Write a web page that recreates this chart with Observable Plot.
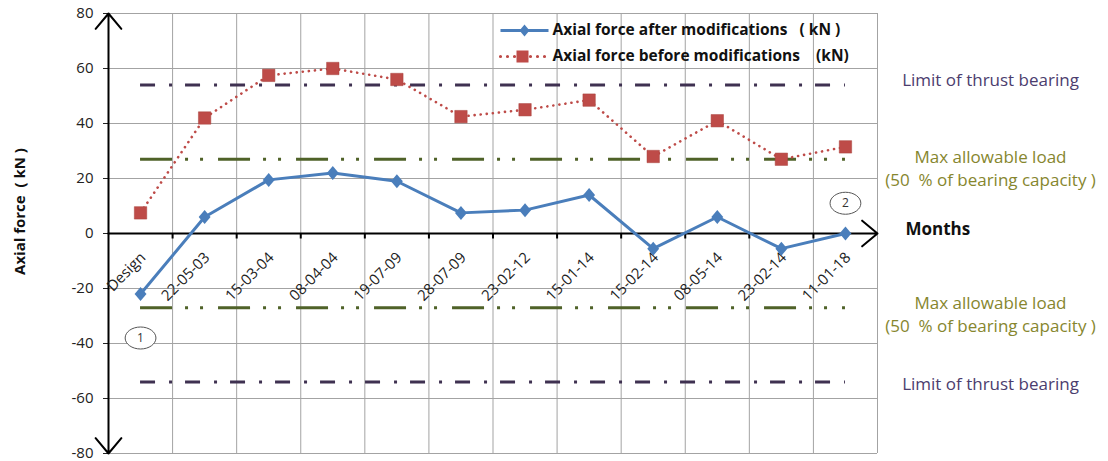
<!DOCTYPE html>
<html>
<head>
<meta charset="utf-8">
<script src="https://cdn.jsdelivr.net/npm/d3@7"></script>
<script src="https://cdn.jsdelivr.net/npm/@observablehq/plot@0.6"></script>
<style>
  html, body { margin: 0; padding: 0; background: #fff; }
  #chart svg { display: block; }
</style>
</head>
<body>
<div id="chart"></div>
<script>
// ---- data ----
const categories = ["Design","22-05-03","15-03-04","08-04-04","19-07-09","28-07-09","23-02-12","15-01-14","15-02-14","08-05-14","23-02-14","11-01-18"];
const afterValues  = [-22, 6, 19.5, 22, 19, 7.5, 8.5, 14, -5.5, 6, -5.5, 0];
const beforeValues = [7.5, 42, 57.5, 60, 56, 42.5, 45, 48.5, 28, 41, 27, 31.5];
const thrustLimit = 54;
const maxAllowable = 27;
const yTicks = [-80, -60, -40, -20, 0, 20, 40, 60, 80];
const seriesNames = ["Axial force after modifications   ( kN )", "Axial force before modifications    (kN)"];
const limitLabel = "Limit of thrust bearing";
const loadLabel = "Max allowable load\n(50  % of bearing capacity )";
const circleNotes = [{label: "1", cat: 0, value: -38}, {label: "2", cat: 11, value: 11}];

// ---- derived tables ----
const n = categories.length;
const afterData = afterValues.map((v, i) => ({i, v}));
const beforeData = beforeValues.map((v, i) => ({i, v}));
const bounds = d3.range(n + 1).map(i => i - 0.5);

const blue = "#4a7ebb", red = "#be4b48", purple = "#3f3151", green = "#4f6228";
const purpleText = "#4b3d6e", greenText = "#86862e";

// custom symbols
const ellipse = {draw(ctx, size) {
  const r = Math.sqrt(size / Math.PI), rx = r * 1.4, ry = r, k = 0.5523;
  ctx.moveTo(rx, 0);
  ctx.bezierCurveTo(rx, ry * k, rx * k, ry, 0, ry);
  ctx.bezierCurveTo(-rx * k, ry, -rx, ry * k, -rx, 0);
  ctx.bezierCurveTo(-rx, -ry * k, -rx * k, -ry, 0, -ry);
  ctx.bezierCurveTo(rx * k, -ry, rx, -ry * k, rx, 0);
  ctx.closePath();
}};
const tickDown = {draw(ctx) { ctx.moveTo(0, 0); ctx.lineTo(0, 5); }};
const legendBlue = {draw(ctx) {
  ctx.rect(-24, -1.5, 48, 3);
  ctx.moveTo(0, -6); ctx.lineTo(5, 0); ctx.lineTo(0, 6); ctx.lineTo(-5, 0); ctx.closePath();
}};
const legendRed = {draw(ctx) {
  for (const x of [-22, -15, -8, 8, 15, 22]) { ctx.moveTo(x + 1.6, 0); ctx.arc(x, 0, 1.6, 0, 2 * Math.PI); }
  ctx.rect(-6, -6, 12, 12);
}};
const diamond = {draw(ctx, size) {
  const r = Math.sqrt(size / Math.PI);
  ctx.moveTo(0, -r); ctx.lineTo(r * 0.85, 0); ctx.lineTo(0, r); ctx.lineTo(-r * 0.85, 0); ctx.closePath();
}};

const chart = Plot.plot({
  width: 1108,
  height: 461,
  marginLeft: 108,
  marginRight: 231,
  marginTop: 13,
  marginBottom: 8,
  style: {fontFamily: "'Open Sans', sans-serif", fontSize: "15px", color: "#222", background: "#fff"},
  x: {type: "linear", domain: [-0.5, n - 0.5], axis: null},
  y: {domain: [-80, 80], ticks: yTicks, tickSize: 5, tickPadding: 10, label: null, tickFormat: d => String(d)},
  marks: [
    // grid
    Plot.ruleY(yTicks, {x1: -0.5, x2: n - 0.5, stroke: "#a3a3a3", strokeWidth: 1}),
    Plot.ruleX(bounds.slice(1), {y1: -80, y2: 80, stroke: "#a3a3a3", strokeWidth: 1}),
    // reference lines
    Plot.ruleY([thrustLimit, -thrustLimit], {x1: 0, x2: n - 1, stroke: purple, strokeWidth: 3.2, strokeDasharray: "15,14,3,13"}),
    Plot.ruleY([maxAllowable, -maxAllowable], {x1: 0, x2: n - 1, stroke: green, strokeWidth: 3.2, strokeDasharray: "32,13,3,12,3,15"}),
    // axes
    Plot.arrow([0], {x1: -0.5, x2: n - 0.5, y1: 0, y2: 0, stroke: "#000", strokeWidth: 2, headLength: 15, headAngle: 80}),
    Plot.arrow([80, -80], {x1: -0.5, x2: -0.5, y1: 0, y2: d => d, stroke: "#000", strokeWidth: 2, headLength: 15, headAngle: 80}),
    Plot.dot(bounds.slice(1, -1), {x: d => d, y: () => 0, symbol: tickDown, stroke: "#000", strokeWidth: 2, r: 3}),
    // x category labels
    Plot.text(categories, {x: (d, i) => i, y: () => 0, text: d => d, rotate: -45, textAnchor: "end", lineAnchor: "bottom", dx: 6, dy: 25, fontSize: 15, fill: "#222"}),
    // series
    Plot.line(beforeData, {x: "i", y: "v", stroke: red, strokeWidth: 2.6, strokeDasharray: "0.1,6", strokeLinecap: "round"}),
    Plot.dot(beforeData, {x: "i", y: "v", symbol: "square", r: 7, fill: red, stroke: "#a8403d", strokeWidth: 0.5}),
    Plot.line(afterData, {x: "i", y: "v", stroke: blue, strokeWidth: 3}),
    Plot.dot(afterData, {x: "i", y: "v", symbol: diamond, r: 7, fill: blue}),
    // circled notes
    Plot.dot(circleNotes, {x: "cat", y: "value", symbol: ellipse, r: 11, fill: "#fff", stroke: "#555", strokeWidth: 1}),
    Plot.text(circleNotes, {x: "cat", y: "value", text: "label", fontSize: 12, fill: "#333"}),
    // legend
    Plot.dot([0], {frameAnchor: "top-left", dx: 416, dy: 17, symbol: legendBlue, r: 5, fill: blue}),
    Plot.dot([0], {frameAnchor: "top-left", dx: 414, dy: 43, symbol: legendRed, r: 5, fill: red}),
    Plot.text([seriesNames[0]], {frameAnchor: "top-left", lineAnchor: "middle", dx: 444, dy: 17, text: d => d, textAnchor: "start", fontWeight: "bold", fontSize: 15.5, fill: "#111"}),
    Plot.text([seriesNames[1]], {frameAnchor: "top-left", lineAnchor: "middle", dx: 444, dy: 43, text: d => d, textAnchor: "start", fontWeight: "bold", fontSize: 15.5, fill: "#111"}),
    // right annotations
    Plot.text([thrustLimit], {y: d => d, frameAnchor: "right", textAnchor: "middle", dx: 113, dy: -4, text: () => limitLabel, fill: purpleText, fontSize: 17}),
    Plot.text([-thrustLimit], {y: d => d, frameAnchor: "right", textAnchor: "middle", dx: 113, dy: 3, text: () => limitLabel, fill: purpleText, fontSize: 17}),
    Plot.text([maxAllowable], {y: d => d, frameAnchor: "right", textAnchor: "middle", dx: 113, dy: 8, text: () => loadLabel, fill: greenText, fontSize: 17, lineHeight: 1.35}),
    Plot.text([-maxAllowable], {y: d => d, frameAnchor: "right", textAnchor: "middle", dx: 113, dy: 5, text: () => loadLabel, fill: greenText, fontSize: 17, lineHeight: 1.35}),
    Plot.text(["Months"], {y: () => 0, frameAnchor: "right", textAnchor: "start", dx: 28, dy: -4, text: d => d, fontWeight: "bold", fontSize: 17, fill: "#111"}),
    // y axis title
    Plot.text(["Axial force  ( kN )"], {frameAnchor: "left", textAnchor: "middle", dx: -88, dy: -22, rotate: -90, text: d => d, fontWeight: "bold", fontSize: 15, fill: "#111"})
  ]
});
document.getElementById("chart").appendChild(chart);
</script>
</body>
</html>
